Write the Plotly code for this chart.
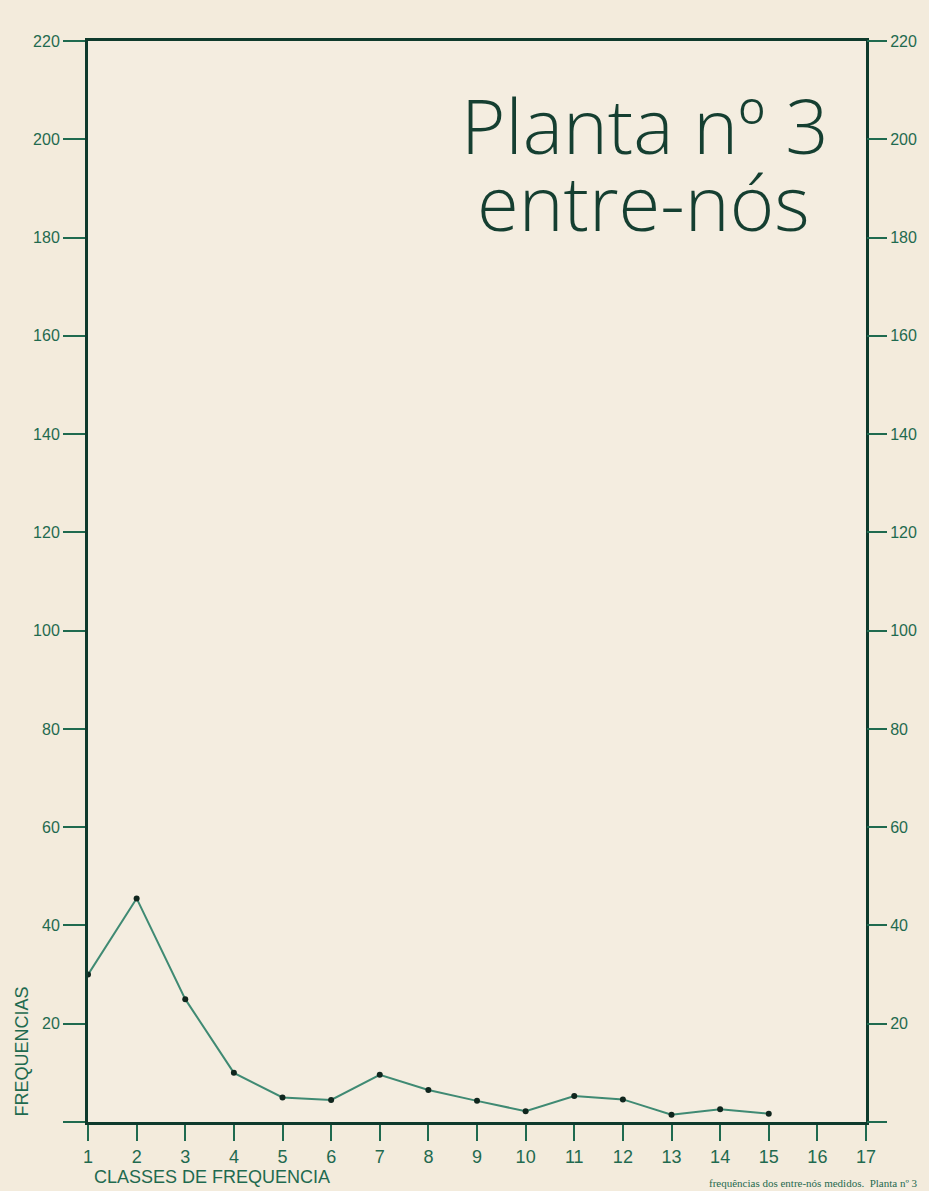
import plotly.graph_objects as go

classes = list(range(1, 16))
frequencias = [30, 45.5, 25, 10, 5, 4.5, 9.6, 6.5, 4.3, 2.2, 5.3, 4.6, 1.5, 2.6, 1.7]
y_ticks = list(range(0, 221, 20))
y_ticklabels_left = [""] + [str(v) for v in y_ticks[1:]]
y_ticklabels_right = [""] + [str(v) for v in y_ticks[1:]]
x_ticks = list(range(1, 18))

frame = "#0e3a2c"
green = "#1f6a4f"
linec = "#3f8a73"
bg = "#f3ebdc"

fig = go.Figure()
fig.add_trace(go.Scatter(
    x=classes, y=frequencias, mode="lines+markers",
    line=dict(color=linec, width=2),
    marker=dict(color="#10261e", size=6),
    cliponaxis=False, showlegend=False,
))
fig.add_trace(go.Scatter(x=[1], y=[0], yaxis="y2", mode="markers",
                         marker=dict(opacity=0), showlegend=False, hoverinfo="skip"))

tickfont = dict(family="Liberation Sans, Arial, sans-serif", size=16, color=green)
title_font = dict(family="Open Sans, Liberation Sans, sans-serif", size=76, color="#153f31", weight=300)

fig.update_layout(
    width=929, height=1191,
    margin=dict(l=88, r=63, t=41, b=69),
    paper_bgcolor=bg, plot_bgcolor="#f4ede0",
    xaxis=dict(range=[1, 17], tickvals=x_ticks, ticktext=[str(v) for v in x_ticks],
               ticks="outside", ticklen=16, tickwidth=2, tickcolor=green,
               tickfont=dict(family="Liberation Sans Narrow, Liberation Sans, sans-serif", size=18, color=green),
               showgrid=False, zeroline=False,
               showline=True, linecolor=frame, linewidth=3, mirror=True),
    yaxis=dict(range=[0, 220], tickvals=y_ticks, ticktext=y_ticklabels_left,
               ticks="outside", ticklen=22, tickwidth=2, tickcolor=green,
               tickfont=tickfont, showgrid=False, zeroline=False,
               showline=True, linecolor=frame, linewidth=3, mirror=True),
    yaxis2=dict(range=[0, 220], tickvals=y_ticks, ticktext=y_ticklabels_right,
                overlaying="y", side="right",
                ticks="outside", ticklen=20, tickwidth=2, tickcolor=green,
                tickfont=tickfont, showgrid=False, zeroline=False, showline=False),
    annotations=[
        dict(text="Planta nº 3", xref="paper", yref="paper", x=0.955, y=0.972,
             xanchor="right", yanchor="top", showarrow=False, font=title_font),
        dict(text="entre-nós", xref="paper", yref="paper", x=0.93, y=0.901,
             xanchor="right", yanchor="top", showarrow=False, font=title_font),
        dict(text="FREQUENCIAS", xref="paper", yref="paper", x=-0.085, y=0.065,
             xanchor="center", yanchor="middle", textangle=-90, showarrow=False,
             font=dict(family="Liberation Sans, Arial, sans-serif", size=18, color=green)),
        dict(text="CLASSES DE FREQUENCIA", xref="paper", yref="paper", x=0.005, y=-0.051,
             xanchor="left", yanchor="middle", showarrow=False,
             font=dict(family="Liberation Sans, Arial, sans-serif", size=18, color=green)),
        dict(text="frequências dos entre-nós medidos.  Planta nº 3", xref="paper", yref="paper",
             x=1.07, y=-0.056, xanchor="right", yanchor="middle", showarrow=False,
             font=dict(family="Liberation Serif, serif", size=11, color=green)),
    ],
)

fig.write_html("out.html", config={"displayModeBar": False},
               post_script="document.body.style.margin='0';document.body.style.overflow='hidden';"
                           "document.body.style.background='%s';window.dispatchEvent(new Event('resize'));" % bg)
